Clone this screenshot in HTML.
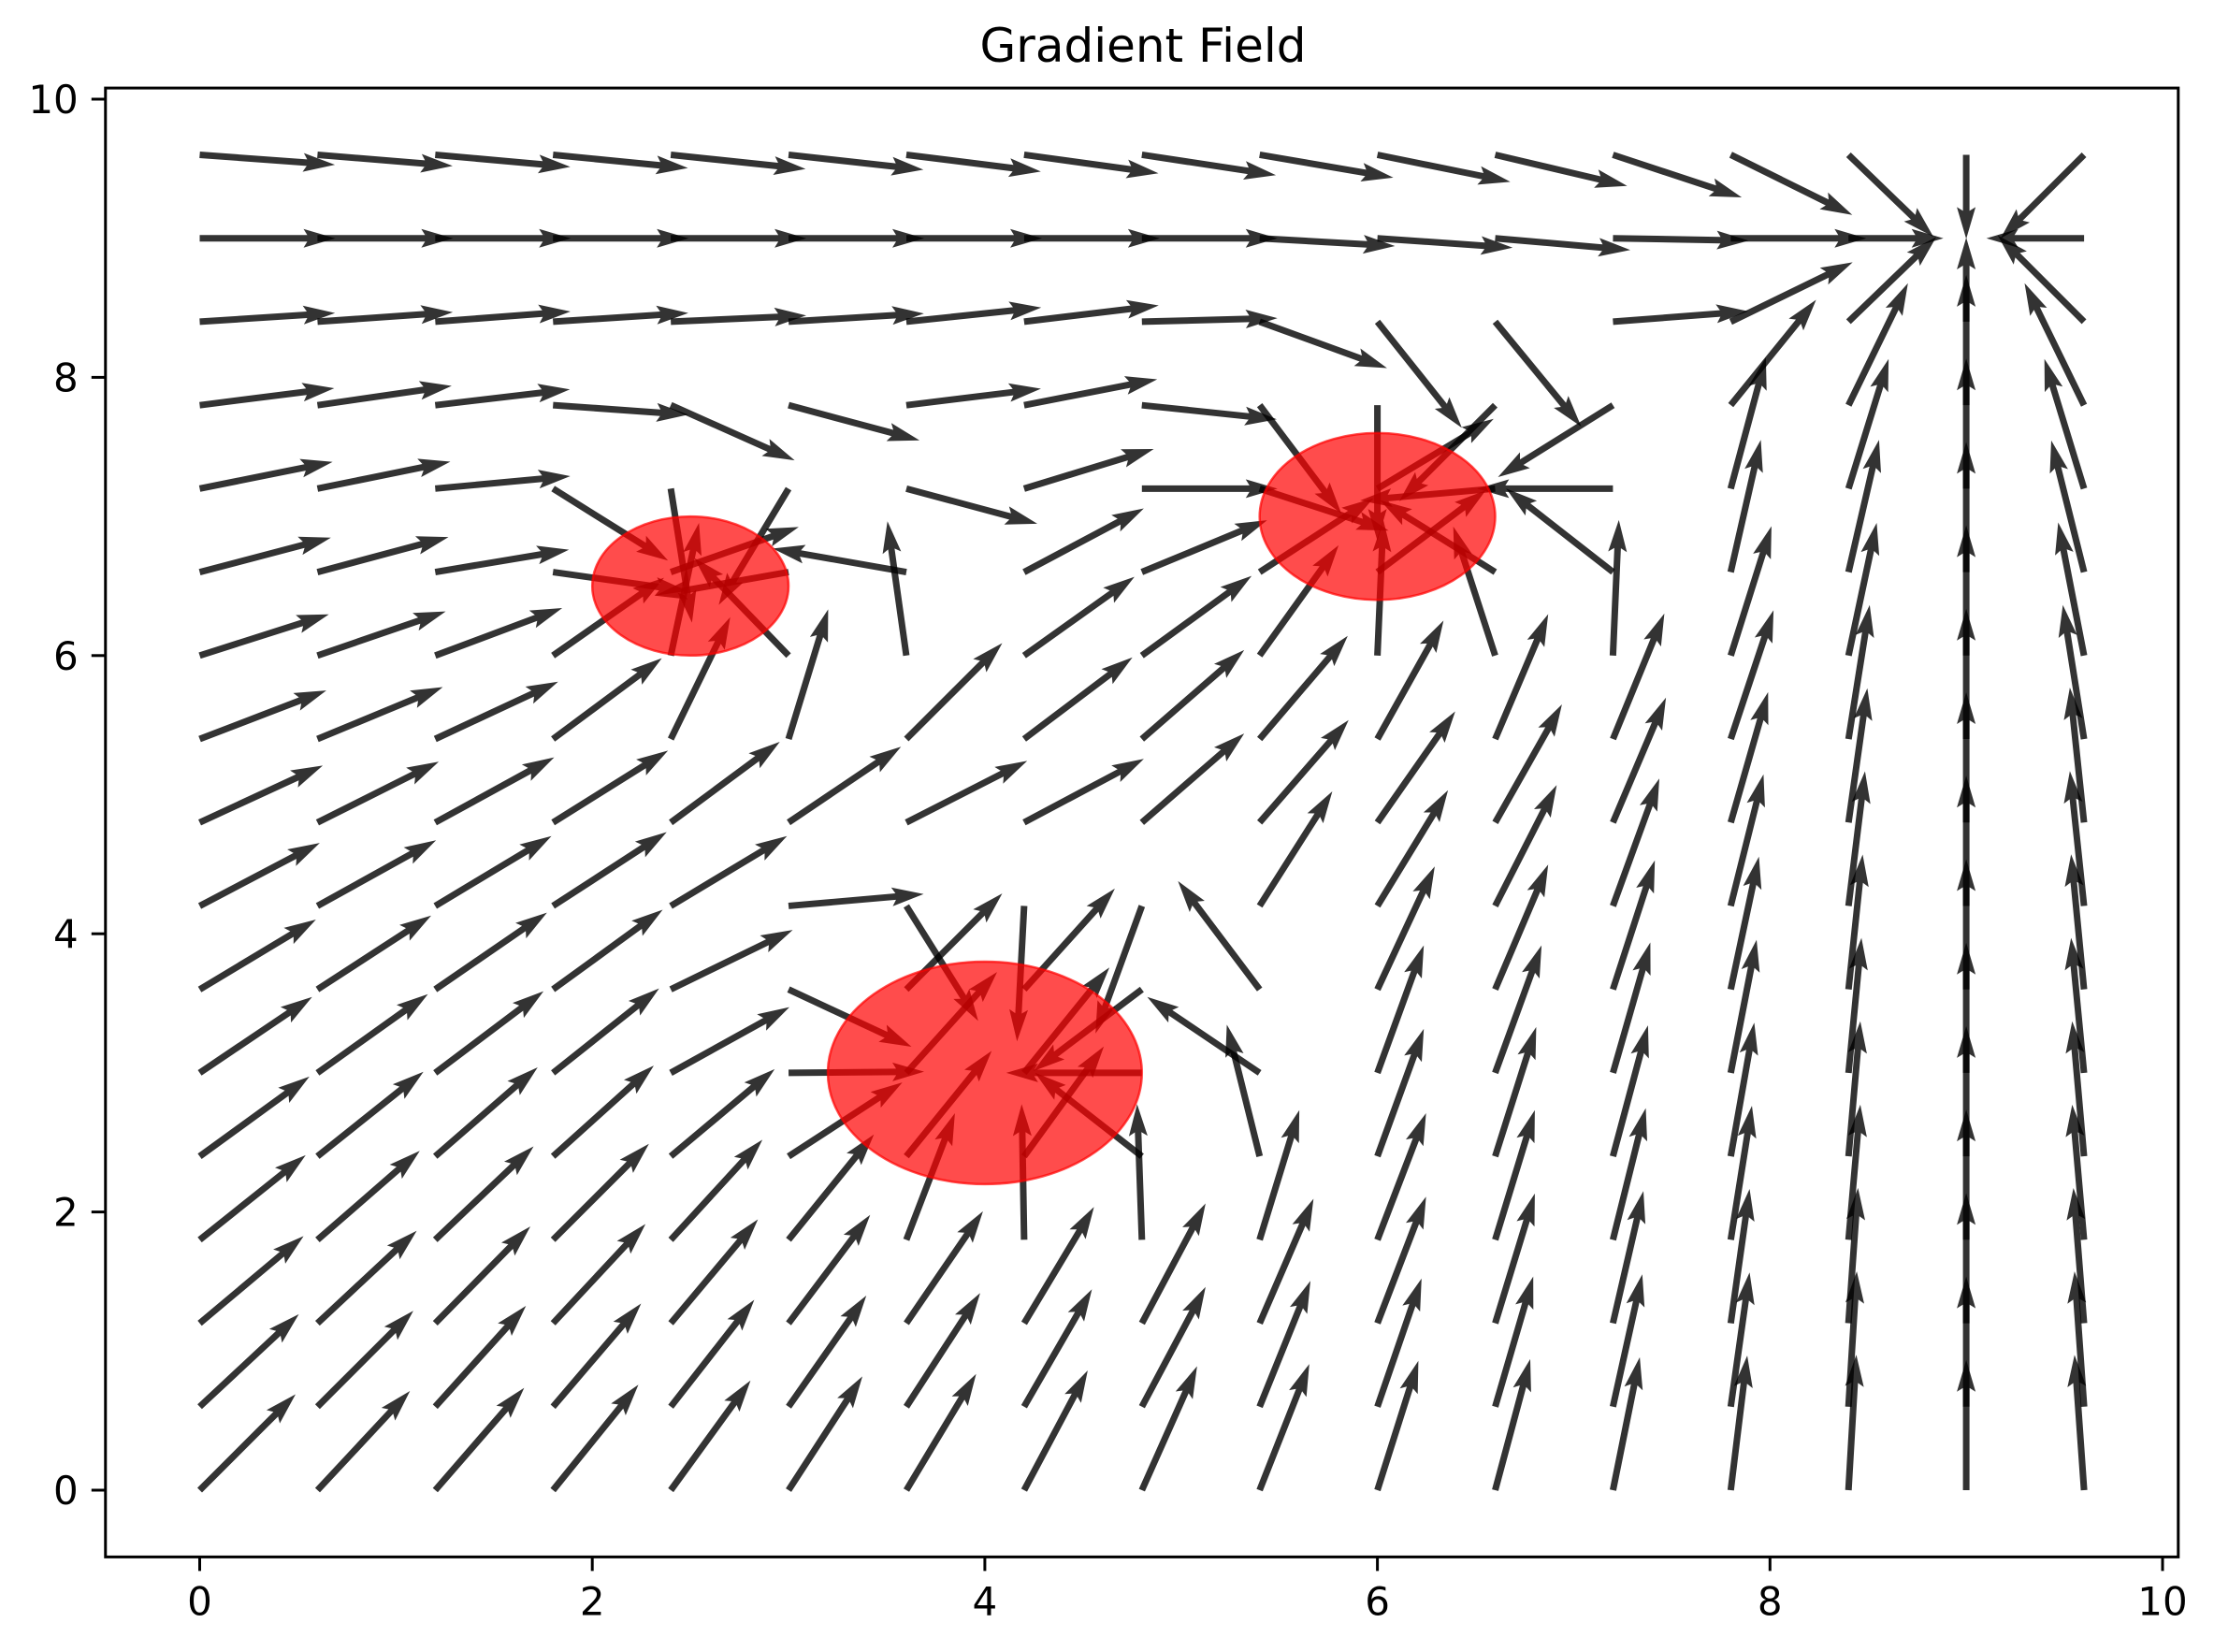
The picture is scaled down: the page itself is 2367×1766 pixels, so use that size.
<!DOCTYPE html>
<html><head><meta charset="utf-8">
<style>
html,body{margin:0;padding:0;background:#fff;}
svg{display:block;}
text{font-family:"DejaVu Sans","Liberation Sans",sans-serif;fill:#000;}
</style></head>
<body>
<svg id="chart" width="2367" height="1766" viewBox="0 0 2367 1766" xmlns="http://www.w3.org/2000/svg">
<rect x="0" y="0" width="2367" height="1766" fill="#fff"/>
<text x="1222" y="66" font-size="50" text-anchor="middle">Gradient Field</text>
<g id="arrows"></g>
<g id="circles"></g>
<g id="axes"></g>
</svg>
<script>
// grid coordinates (data units)
const gridX = [0,0.6,1.2,1.8,2.4,3.0,3.6,4.2,4.8,5.4,6.0,6.6,7.2,7.8,8.4,9.0,9.6];
const gridY = [0,0.6,1.2,1.8,2.4,3.0,3.6,4.2,4.8,5.4,6.0,6.6,7.2,7.8,8.4,9.0,9.6];
// arrow direction (degrees, screen, CCW from +x), one row per gridY value
const angleRows = [
[45,47,49,51,54,57,59,62,66,68.5,72.4,75,78.6,83,86.7,90,94],
[43,45,48,49.5,52,55,57,60,62,68,71,73.7,77.5,82,86.5,90,94],
[40,43,45.5,47,50,53,55.6,59,62,66.6,69,73,77,82,86,90,94.5],
[38.6,41,43.5,45,47.5,51,69,91,92,73,69,73,76,81,85,90,95],
[36,38.6,41,42,40,33,51,54,142,104,70,72.4,75,80,85,90,95],
[34,35.5,37,38.5,29,0.5,48,51,180,146,70,70,74,79,84.5,90,95.5],
[31,33,34.5,36,26,-25,45,48,-143,127,65,67,72,78,84,90,95.5],
[27.7,29,31,33,31,5,-58,-93,-110,57.6,58.6,63,70,76,83,90,96],
[24.8,26.6,28.7,32,36.5,34,27,28,41,49,55,60.5,67,74,82,90,96],
[21,22.5,25,36.6,64,73,45,37,41,49.5,60.8,67,67.7,71.6,81,90,99],
[17.7,19,20.5,35,78,134,98,35.5,36,54.4,87.5,108,87.5,72.5,78,90,101],
[14.7,15,9.5,-8,19.4,190,170,28,22.5,33,37,148,142,77.2,77,90,104],
[11.4,11.5,5.3,-32,-81,-121,-15,17,0,-18,31,185,180,75,72.8,90,107],
[7.2,8.2,6.7,-4,-24,-15,7,11,-6,-53,-90,-135,-148,51,64,90,116],
[3.7,4,4.3,3.7,2.6,3.5,6,6.9,1.5,-20,-51.5,-50.6,4.4,26,44,90,135],
[0,0,0,0,0,0,0,0,0,-3.3,-4,-5,-1,0,0,90,180],
[-4.2,-4.7,-5.1,-5.6,-6,-6.3,-7.1,-7.8,-8.6,-9.7,-11.5,-13.3,-18.3,-26.3,-44,-90,-135]
];
// relative arrow magnitudes (1 = normal)
const magRows = [
[1,1,1,1,1,1,1,1,1,1,1,1,1,1,1,0.96,1],
[1,1,1,1,1,1,1,1,1,1,1,1,1,1,1,0.96,1],
[1,1,1,1,1,1,1,1,1,1,1,1,1,1,1,0.96,1],
[1,1,1,1,1,1,1,1,1,1,1,1,1,1,1,0.96,1],
[1,1,1,1,1,1,1,1,1,1,1,1,1,1,1,0.96,1],
[1,1,1,1,1,1,1,1,1,1,1,1,1,1,1,0.96,1],
[1,1,1,1,1,1,1,1,1,1,1,1,1,1,1,0.96,1],
[1,1,1,1,1,1,1,1,1,1,1,1,1,1,1,0.96,1],
[1,1,1,1,1,1,1,1,1,1,1,1,1,1,1,0.96,1],
[1,1,1,1,1,1,1,1,1,1,1,1,1,1,1,0.96,1],
[1,1,1,1,1,1,1,1,1,1,1,1,1,1,1,0.96,1],
[1,1,1,1,1,1,1,1,1,1,1,1,1,1,1,0.96,1],
[1,1,1,1,1,1,1,1,1,1,1,1,1,1,1,0.96,1],
[1,1,1,1,1,1,1,1,1,1,1,1,1,1,1,0.96,1],
[1,1,1,1,1,1,1,1,1,1,1,1,1,1,0.9,0.62,0.9],
[1,1,1,1,1,1,1,1,1,1,1,1,1,1,0.7,0,0.72],
[1,1,1,1,1,1,1,1,1,1,1,1,1,1,0.87,0.62,0.87]
];
// attractor circles: centers and radii (data units)
const circleX = [4, 2.5, 6];
const circleY = [3, 6.5, 7];
const circleR = [0.8, 0.5, 0.6];
const xTicks = [0,2,4,6,8,10];
const yTicks = [0,2,4,6,8,10];
const xTickLabels = ["0","2","4","6","8","10"];
const yTickLabels = ["0","2","4","6","8","10"];

const NS = "http://www.w3.org/2000/svg";
const X0 = 213.5, XS = 209.85, Y0 = 1593, YS = 148.7;
function sx(x){ return X0 + x*XS; }
function sy(y){ return Y0 - y*YS; }
const axL = sx(-0.48), axR = sx(10.08), axT = sy(10.08), axB = sy(-0.48);

const arrowsG = document.getElementById('arrows');
const BASE = 145, W = 7, HL = 34, HAL = 30, HW = 20;
for (let j = 0; j < gridY.length; j++) {
  for (let i = 0; i < gridX.length; i++) {
    const L = BASE * magRows[j][i];
    if (L < 1) continue;
    const a = angleRows[j][i] * Math.PI / 180;
    const ux = Math.cos(a), uy = -Math.sin(a);
    const nx = -uy, ny = ux;
    const tx = sx(gridX[i]), ty = sy(gridY[j]);
    let hl = HL, hal = HAL, hw = HW, w = W;
    if (L < hl) { const k = L / hl; hl *= k; hal *= k; hw *= k; }
    const pts = [
      [0, -w/2],[L-hal, -w/2],[L-hl, -hw/2],[L, 0],[L-hl, hw/2],[L-hal, w/2],[0, w/2]
    ].map(p => (tx + ux*p[0] + nx*p[1]).toFixed(1) + ',' + (ty + uy*p[0] + ny*p[1]).toFixed(1)).join(' ');
    const poly = document.createElementNS(NS, 'polygon');
    poly.setAttribute('points', pts);
    poly.setAttribute('fill', 'rgba(0,0,0,0.8)');
    
    
    arrowsG.appendChild(poly);
  }
}

const circG = document.getElementById('circles');
for (let k = 0; k < circleX.length; k++) {
  const e = document.createElementNS(NS, 'ellipse');
  e.setAttribute('cx', sx(circleX[k]));
  e.setAttribute('cy', sy(circleY[k]));
  e.setAttribute('rx', circleR[k]*XS);
  e.setAttribute('ry', circleR[k]*YS);
  e.setAttribute('fill', 'rgba(255,0,0,0.7)');
  e.setAttribute('stroke', 'rgba(255,0,0,0.7)');
  e.setAttribute('stroke-width', '2.5');
  
  
  circG.appendChild(e);
}

const axesG = document.getElementById('axes');
const frame = document.createElementNS(NS, 'rect');
frame.setAttribute('x', axL); frame.setAttribute('y', axT);
frame.setAttribute('width', axR-axL); frame.setAttribute('height', axB-axT);
frame.setAttribute('fill', 'none'); frame.setAttribute('stroke', '#000'); frame.setAttribute('stroke-width', '3');


axesG.appendChild(frame);
for (let k = 0; k < xTicks.length; k++) {
  const x = sx(xTicks[k]);
  const t = document.createElementNS(NS, 'line');
  t.setAttribute('x1', x); t.setAttribute('x2', x); t.setAttribute('y1', axB); t.setAttribute('y2', axB+15);
  t.setAttribute('stroke', '#000'); t.setAttribute('stroke-width', '3');
  
  
  axesG.appendChild(t);
  const lb = document.createElementNS(NS, 'text');
  lb.setAttribute('x', x); lb.setAttribute('y', axB+62); lb.setAttribute('font-size', '42'); lb.setAttribute('text-anchor', 'middle');
  lb.textContent = xTickLabels[k];
  
  
  axesG.appendChild(lb);
}
for (let k = 0; k < yTicks.length; k++) {
  const y = sy(yTicks[k]);
  const t = document.createElementNS(NS, 'line');
  t.setAttribute('x1', axL-15); t.setAttribute('x2', axL); t.setAttribute('y1', y); t.setAttribute('y2', y);
  t.setAttribute('stroke', '#000'); t.setAttribute('stroke-width', '3');
  
  
  axesG.appendChild(t);
  const lb = document.createElementNS(NS, 'text');
  lb.setAttribute('x', axL-29); lb.setAttribute('y', y+15); lb.setAttribute('font-size', '42'); lb.setAttribute('text-anchor', 'end');
  lb.textContent = yTickLabels[k];
  
  
  axesG.appendChild(lb);
}
</script>
</body></html>
